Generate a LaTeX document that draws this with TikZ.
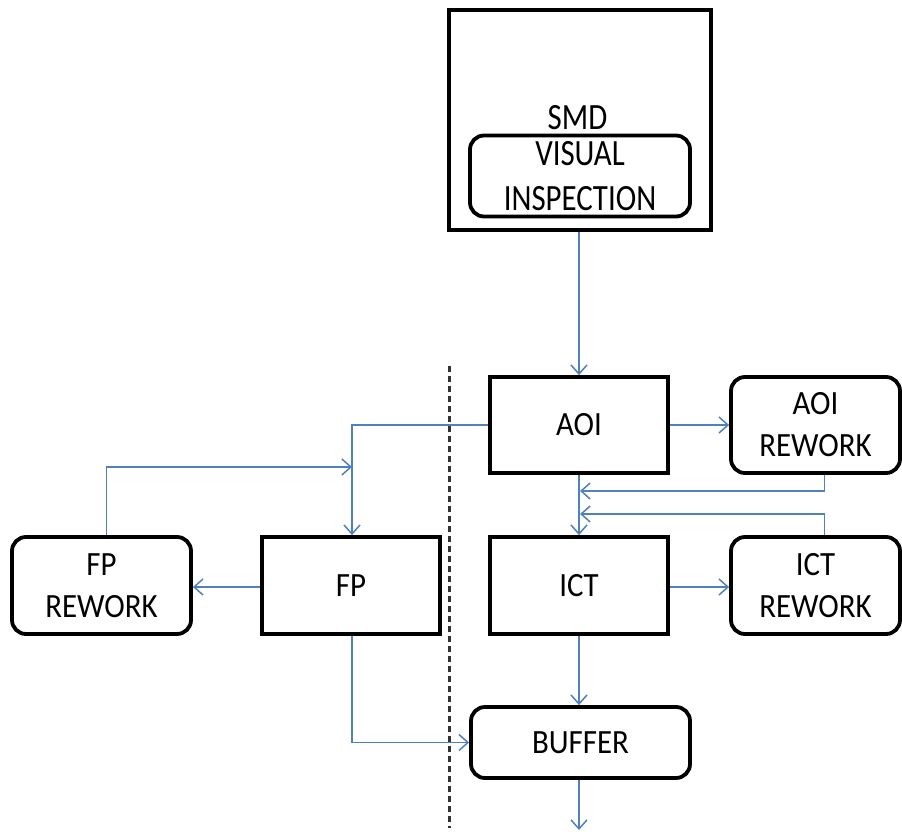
\documentclass[tikz,border=0pt]{standalone}
\usepackage{fontspec}
\usepackage{graphicx}
\setmainfont{Carlito}
\usetikzlibrary{arrows.meta,calc}
\definecolor{flow}{RGB}{79,129,189}
\definecolor{dashc}{RGB}{50,50,50}
\newcommand\ysa[1]{\scalebox{1}[1.1]{#1}}
\newcommand\ysb[1]{\scalebox{1}[1.2]{#1}}
\begin{document}
\begin{tikzpicture}[x=1bp,y=-1bp,
  box/.style={draw=black,line width=3.8bp,inner sep=0pt,align=center,
    font=\fontsize{31}{42}\selectfont},
  rbox/.style={box,rounded corners=14bp},
  txt/.style={inner sep=0pt,align=center,font=\fontsize{31}{48}\selectfont},
  arr/.style={draw=flow,line width=1.5bp,-{Straight Barb[length=9bp,width=16bp,line width=1.5bp]}},
  arrb/.style={arr,line width=2.2bp},
  divider/.style={draw=dashc,line width=3bp,dash pattern=on 6bp off 4bp}]
\useasboundingbox (0,0) rectangle (902,835);
% nodes
\node[box,line width=4.2bp,minimum width=262bp,minimum height=220bp] (smd) at (580,120) {};
\node[txt] (smdt) at (577.5,118) {\ysb{SMD}};
\node[rbox,minimum width=220bp,minimum height=81bp,font=\fontsize{31}{47}\selectfont] (vi) at (580,176) {\raisebox{-2bp}{\ysb{VISUAL}}\\\ysb{INSPECTION}};
\node[box,minimum width=178bp,minimum height=96bp] (aoi) at (579,425) {\ysa{AOI}};
\node[rbox,minimum width=169bp,minimum height=96bp] (aoirw) at (815.5,425) {\ysa{AOI}\\\ysa{REWORK}};
\node[box,minimum width=178bp,minimum height=97bp] (ict) at (579,585.5) {\ysa{ICT}};
\node[rbox,minimum width=169bp,minimum height=97bp] (ictrw) at (815.5,585.5) {\ysa{ICT}\\\ysa{REWORK}};
\node[box,minimum width=178bp,minimum height=97bp] (fp) at (351,585.5) {\ysa{FP}};
\node[rbox,minimum width=179bp,minimum height=97bp] (fprw) at (101.5,585.5) {\ysa{FP}\\\ysa{REWORK}};
\node[rbox,minimum width=219bp,minimum height=71bp] (buf) at (580.5,742.5) {\ysa{BUFFER}};
% coordinates
\coordinate (j1) at (580,491);
\coordinate (j2) at (580,514);
\coordinate (j3) at (352,467);
\coordinate (out) at (579,830);
\coordinate (dtop) at (449,366);
\coordinate (dbot) at (449,828);
% divider
\draw[divider] (dtop) -- (dbot);
% connectors
\draw[arrb] (smd.south -| aoi.north) -- (aoi.north);
\draw[arrb] (aoi.east) -- (aoirw.west);
\draw[arr] ([xshift=9bp]aoirw.south) |- (j1);
\draw[arr] ([xshift=9bp]ictrw.north) |- (j2);
\draw[arrb] (aoi.south) -- (ict.north);
\draw[arrb] ([yshift=-1.5bp]ict.east) -- ([yshift=-1.5bp]ictrw.west);
\draw[arrb] (ict.south) -- (ict.south |- buf.north);
\draw[arrb] (ict.south |- buf.south) -- (out);
\draw[arr] (aoi.west) -| ([xshift=1bp]fp.north);
\draw[arr] ([xshift=5bp]fprw.north) |- (j3);
\draw[arrb] ([yshift=-1.5bp]fp.west) -- ([yshift=-1.5bp]fprw.east);
\draw[arr] ([xshift=1bp]fp.south) |- (buf.west);
\end{tikzpicture}
\end{document}
